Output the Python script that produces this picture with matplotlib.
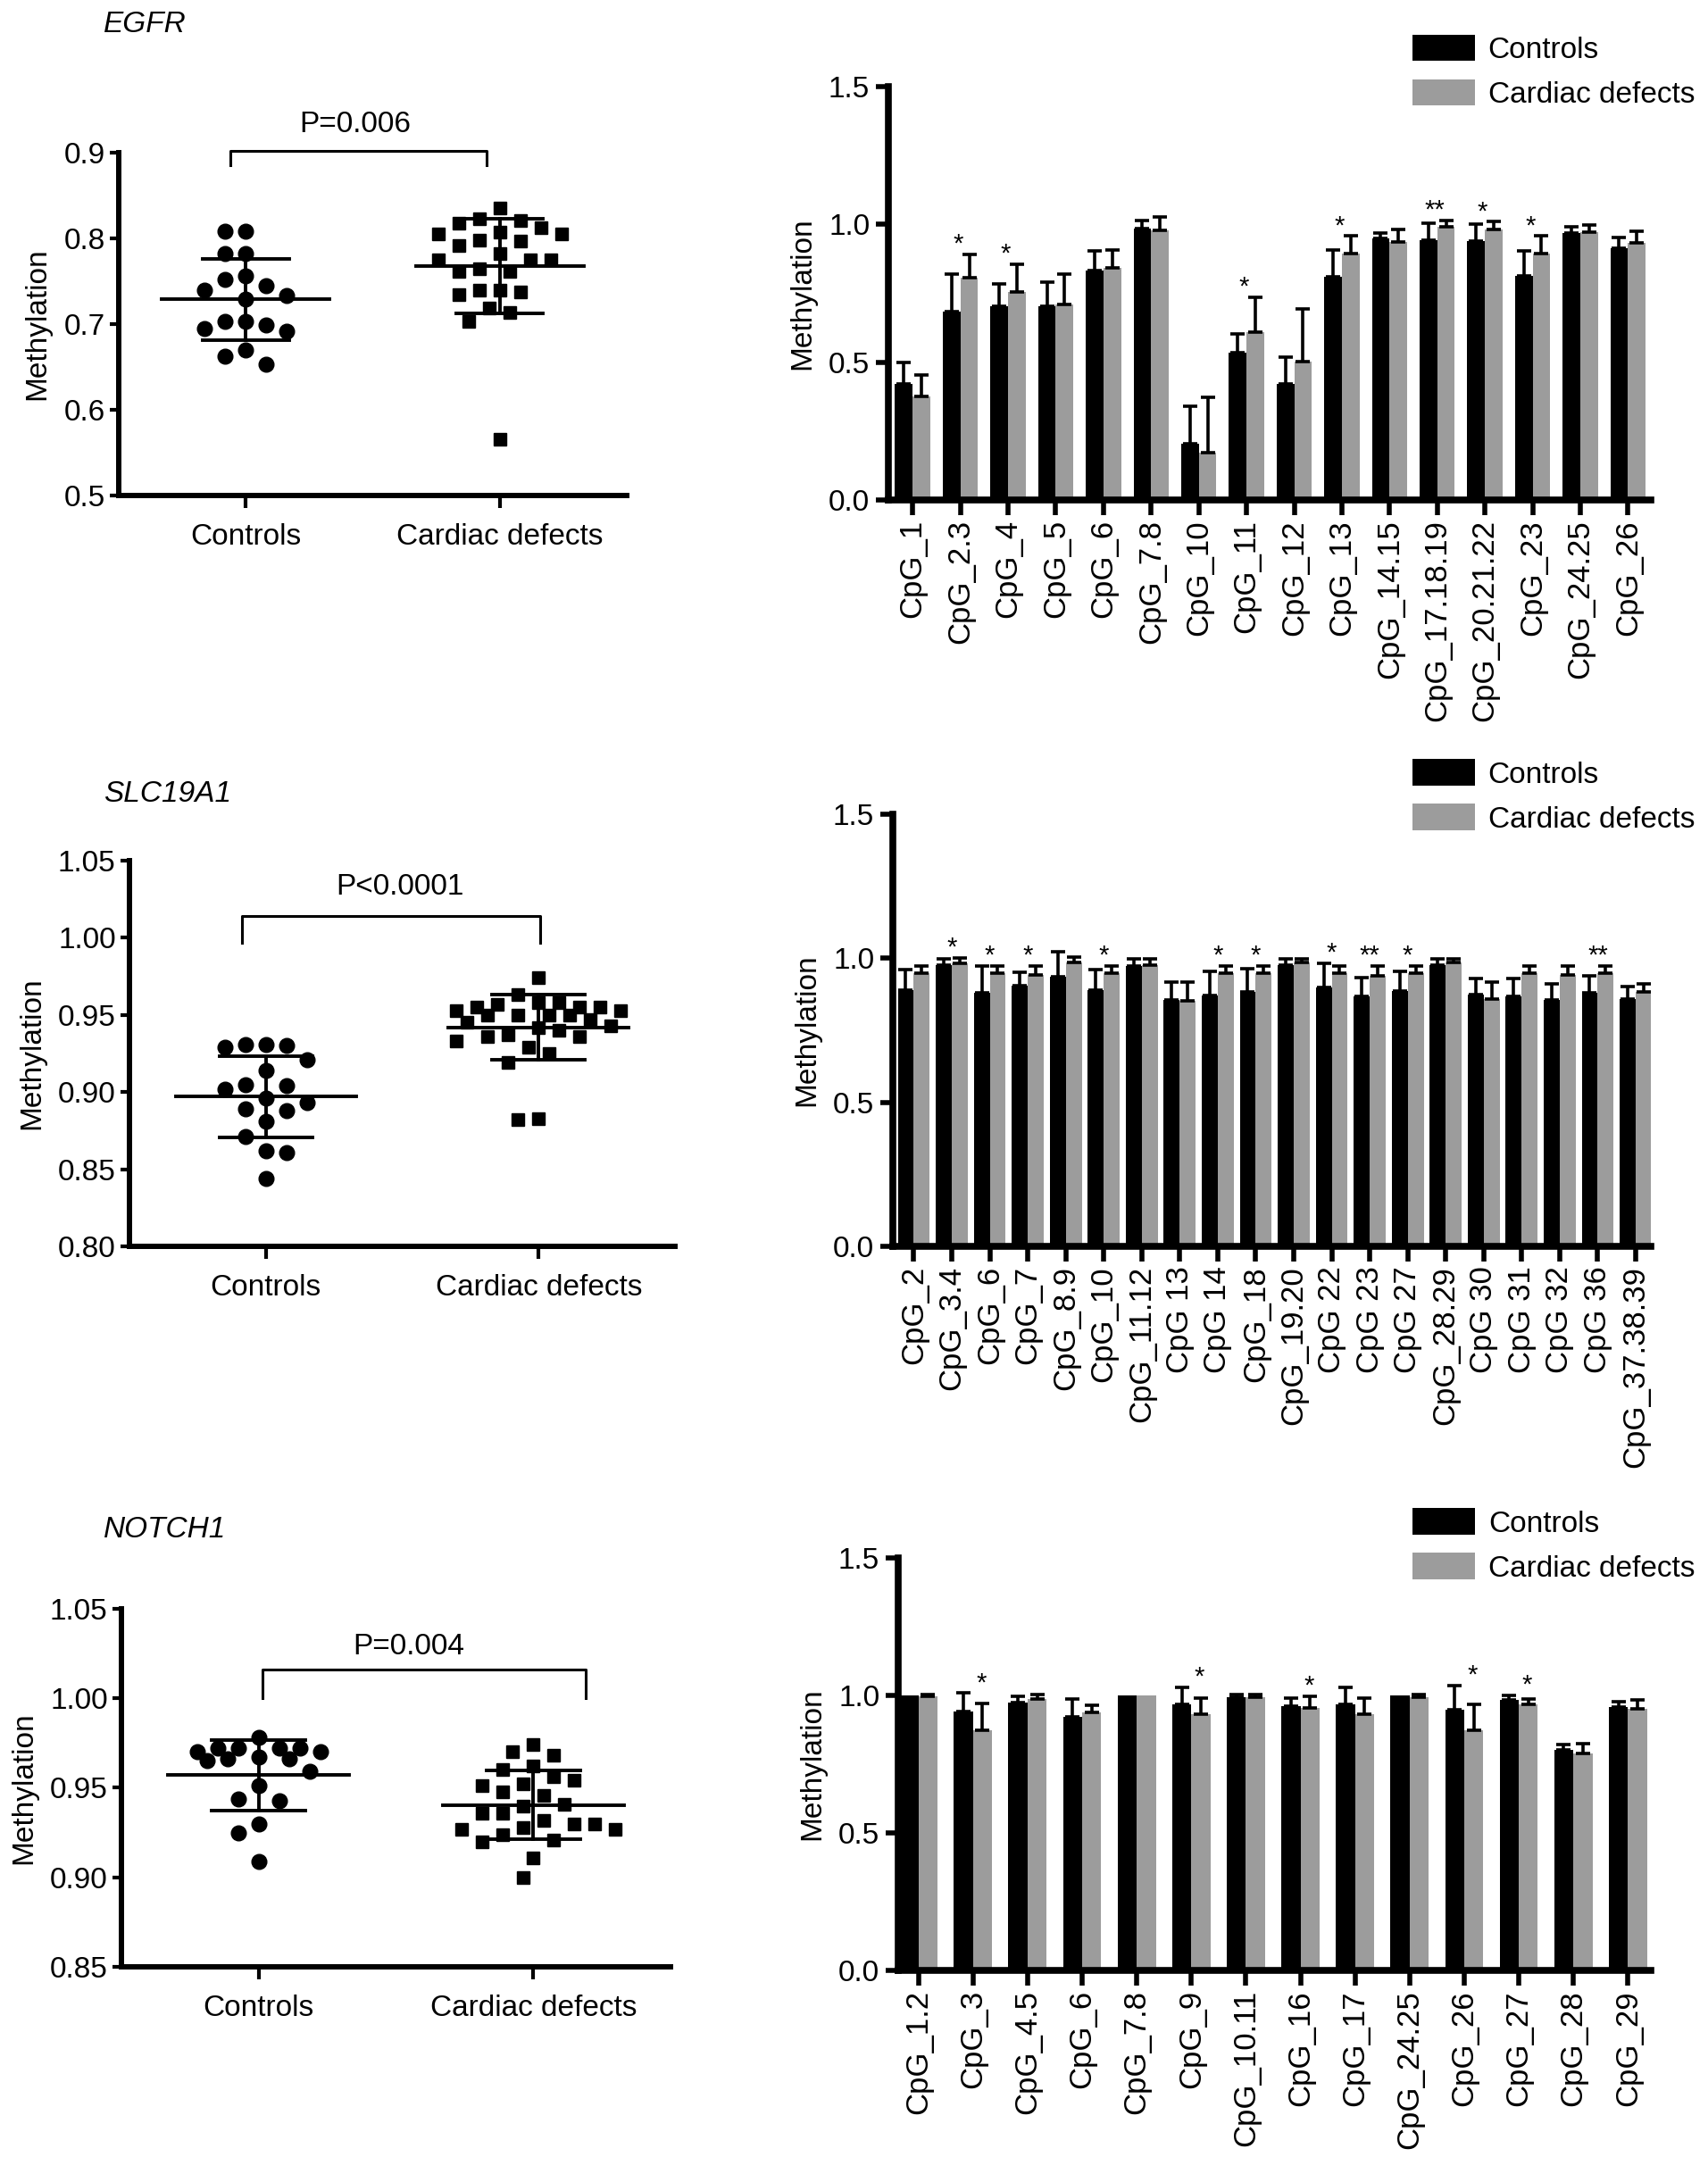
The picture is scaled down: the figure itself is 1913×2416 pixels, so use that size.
import numpy as np
import matplotlib
matplotlib.use('Agg')
import matplotlib.pyplot as plt
from matplotlib.patches import Patch

plt.rcParams['font.family'] = ['Liberation Sans', 'DejaVu Sans']

# ---------------- data ----------------
# Scatter panels (individual methylation levels)
egfr_ctrl = [0.808, 0.808, 0.782, 0.782, 0.756, 0.752, 0.745, 0.740, 0.733, 0.729,
             0.703, 0.703, 0.699, 0.695, 0.692, 0.670, 0.663, 0.653]
egfr_case = [0.835, 0.823, 0.821, 0.818, 0.812, 0.807, 0.805, 0.805, 0.798, 0.797,
             0.792, 0.782, 0.775, 0.775, 0.775, 0.765, 0.761, 0.761, 0.740, 0.740,
             0.738, 0.734, 0.719, 0.714, 0.703, 0.566]
egfr_mean = [0.729, 0.768]
egfr_sd = [0.0475, 0.055]

slc_ctrl = [0.931, 0.930, 0.929, 0.931, 0.921, 0.914, 0.904, 0.902, 0.905, 0.896,
            0.893, 0.889, 0.888, 0.881, 0.871, 0.862, 0.861, 0.844]
slc_case = [0.974, 0.963, 0.958, 0.957, 0.958, 0.955, 0.953, 0.953, 0.955, 0.955,
            0.950, 0.950, 0.950, 0.950, 0.945, 0.947, 0.943, 0.942, 0.940, 0.936,
            0.937, 0.936, 0.933, 0.929, 0.925, 0.919, 0.882, 0.883]
slc_mean = [0.897, 0.942]
slc_sd = [0.0265, 0.021]

notch_ctrl = [0.978, 0.970, 0.972, 0.972, 0.972, 0.972, 0.970, 0.966, 0.965, 0.966,
              0.967, 0.959, 0.951, 0.943, 0.944, 0.930, 0.925, 0.909]
notch_case = [0.974, 0.970, 0.968, 0.960, 0.962, 0.956, 0.954, 0.951, 0.952, 0.946,
              0.948, 0.940, 0.941, 0.936, 0.936, 0.930, 0.927, 0.927, 0.930, 0.932,
              0.928, 0.924, 0.921, 0.920, 0.911, 0.900]
notch_mean = [0.957, 0.9405]
notch_sd = [0.0195, 0.019]

scatter_cats = ['Controls', 'Cardiac defects']
p_labels = ['P=0.006', 'P<0.0001', 'P=0.004']
gene_names = ['EGFR', 'SLC19A1', 'NOTCH1']

# Bar panels (per CpG unit)
egfr_cpg = ['CpG_1', 'CpG_2.3', 'CpG_4', 'CpG_5', 'CpG_6', 'CpG_7.8', 'CpG_10', 'CpG_11',
            'CpG_12', 'CpG_13', 'CpG_14.15', 'CpG_17.18.19', 'CpG_20.21.22', 'CpG_23',
            'CpG_24.25', 'CpG_26']
egfr_bar_ctrl = [0.420, 0.683, 0.703, 0.703, 0.834, 0.986, 0.203, 0.534, 0.420, 0.810,
                 0.949, 0.942, 0.941, 0.814, 0.968, 0.915]
egfr_bar_ctrl_sd = [0.080, 0.136, 0.080, 0.089, 0.069, 0.028, 0.136, 0.069, 0.097, 0.097,
                    0.020, 0.061, 0.059, 0.089, 0.024, 0.039]
egfr_bar_case = [0.376, 0.807, 0.754, 0.708, 0.841, 0.980, 0.171, 0.610, 0.502, 0.895,
                 0.937, 0.992, 0.983, 0.895, 0.971, 0.932]
egfr_bar_case_sd = [0.078, 0.085, 0.102, 0.111, 0.067, 0.047, 0.202, 0.127, 0.190, 0.063,
                    0.046, 0.022, 0.027, 0.063, 0.026, 0.044]
egfr_sig = ['', '*', '*', '', '', '', '', '*', '', '*', '', '**', '*', '*', '', '']

slc_cpg = ['CpG_2', 'CpG_3.4', 'CpG_6', 'CpG_7', 'CpG_8.9', 'CpG_10', 'CpG_11.12', 'CpG 13',
           'CpG 14', 'CpG_18', 'CpG_19.20', 'CpG 22', 'CpG 23', 'CpG 27', 'CpG_28.29',
           'CpG 30', 'CpG 31', 'CpG 32', 'CpG 36', 'CpG_37.38.39']
slc_bar_ctrl = [0.891, 0.977, 0.880, 0.904, 0.935, 0.891, 0.972, 0.856, 0.872, 0.883,
                0.976, 0.900, 0.867, 0.887, 0.976, 0.875, 0.867, 0.854, 0.880, 0.859]
slc_bar_ctrl_sd = [0.070, 0.020, 0.092, 0.047, 0.089, 0.070, 0.025, 0.060, 0.081, 0.081,
                   0.021, 0.081, 0.065, 0.066, 0.021, 0.054, 0.062, 0.057, 0.060, 0.044]
slc_bar_case = [0.948, 0.981, 0.948, 0.943, 0.985, 0.948, 0.976, 0.851, 0.948, 0.948,
                0.984, 0.948, 0.940, 0.948, 0.984, 0.859, 0.948, 0.943, 0.948, 0.883]
slc_bar_case_sd = [0.024, 0.019, 0.024, 0.029, 0.018, 0.024, 0.021, 0.065, 0.024, 0.024,
                   0.013, 0.024, 0.032, 0.024, 0.013, 0.057, 0.024, 0.029, 0.024, 0.028]
slc_sig = ['', '*', '*', '*', '', '*', '', '', '*', '*', '', '*', '**', '*', '', '', '',
           '', '**', '']

notch_cpg = ['CpG_1.2', 'CpG_3', 'CpG_4.5', 'CpG_6', 'CpG_7.8', 'CpG_9', 'CpG_10.11',
             'CpG_16', 'CpG_17', 'CpG_24.25', 'CpG_26', 'CpG_27', 'CpG_28', 'CpG_29']
notch_bar_ctrl = [1.000, 0.943, 0.975, 0.923, 1.000, 0.967, 0.994, 0.962, 0.967, 1.000,
                  0.947, 0.984, 0.802, 0.958]
notch_bar_ctrl_sd = [0.000, 0.066, 0.022, 0.063, 0.000, 0.063, 0.009, 0.027, 0.063, 0.000,
                     0.089, 0.016, 0.019, 0.020]
notch_bar_case = [0.997, 0.874, 0.986, 0.939, 1.000, 0.931, 0.994, 0.953, 0.931, 0.994,
                  0.874, 0.967, 0.789, 0.950]
notch_bar_case_sd = [0.006, 0.096, 0.017, 0.026, 0.000, 0.058, 0.009, 0.045, 0.058, 0.009,
                     0.093, 0.019, 0.036, 0.033]
notch_sig = ['', '*', '', '', '', '*', '', '*', '', '', '*', '*', '', '']

legend_labels = ['Controls', 'Cardiac defects']

# ---------------- figure ----------------
W, H = 1913, 2416
DPI = 100
fig = plt.figure(figsize=(W / DPI, H / DPI), dpi=DPI)
FS = 24
GRAY = '#9c9c9c'


def add_ax(l, r, t, b):
    return fig.add_axes([l / W, 1 - b / H, (r - l) / W, (b - t) / H])


def style_axes(ax, lw):
    for s in ['top', 'right']:
        ax.spines[s].set_visible(False)
    for s in ['left', 'bottom']:
        ax.spines[s].set_linewidth(lw)
        ax.spines[s].set_capstyle('projecting')


def swarm_offsets(ax, xc, vals, sep, max_half):
    """Beeswarm layout in pixel space, limited to +-max_half data units."""
    tr = ax.transData
    inv = tr.inverted()
    x0 = tr.transform((xc, 0))[0]
    lim = tr.transform((xc + max_half, 0))[0] - x0
    ys = [tr.transform((xc, v))[1] for v in vals]
    placed = []
    out = np.zeros(len(vals))
    step = sep * 0.5
    cands = [0.0]
    j = 1
    while j * step <= lim:
        cands += [-j * step, j * step]
        j += 1
    for i in np.argsort(vals)[::-1]:
        y = ys[i]
        best, best_d = None, -1
        for off in cands:
            d = min([np.hypot(off - px, y - py) for px, py in placed] + [1e9])
            if d >= sep:
                best = off
                break
            if d > best_d:
                best, best_d = off, d
        placed.append((best, y))
        out[i] = inv.transform((x0 + best, y))[0]
    return out


def scatter_panel(box, ctrl, case, means, sds, ylim, yticks, fmt, bracket, ptext, ppos,
                  spread):
    ax = add_ax(*box)
    style_axes(ax, 4.3)
    ax.set_xlim(-0.5, 1.5)
    ax.set_ylim(*ylim)
    ax.set_yticks(yticks)
    ax.set_yticklabels([fmt.format(v) for v in yticks], fontsize=FS)
    ax.set_xticks([0, 1])
    ax.set_xticklabels(scatter_cats, fontsize=FS)
    ax.tick_params(axis='y', length=7, width=3, pad=4)
    ax.tick_params(axis='x', length=10, width=3, pad=12)
    ax.set_ylabel('Methylation', fontsize=FS, labelpad=10)
    for xc, vals, mk, ms, sp in [(0, ctrl, 'o', 12, spread[0]), (1, case, 's', 10.5, spread[1])]:
        xs = swarm_offsets(ax, xc, vals, 23, sp)
        ax.plot(xs, vals, ls='none', marker=mk, ms=ms, color='black', clip_on=False, zorder=3)
    for xc, m, s in zip([0, 1], means, sds):
        ax.plot([xc - 0.33, xc + 0.33], [m, m], color='black', lw=2.8, zorder=4)
        ax.plot([xc - 0.17, xc + 0.17], [m + s, m + s], color='black', lw=2.8, zorder=4)
        ax.plot([xc - 0.17, xc + 0.17], [m - s, m - s], color='black', lw=2.8, zorder=4)
        ax.plot([xc, xc], [m - s, m + s], color='black', lw=2.8, zorder=4)
    x0, x1, yt, yd = bracket
    ax.plot([x0, x0, x1, x1], [yd, yt, yt, yd], color='black', lw=2.2, clip_on=False)
    ax.text(ppos[0], ppos[1], ptext, fontsize=FS, ha='center', va='center', clip_on=False)
    return ax


def bar_panel(box, cats, ctrl, ctrl_sd, case, case_sd, sig, w, xlim, sdx, leg_anchor):
    ax = add_ax(*box)
    style_axes(ax, 5.5)
    x = np.arange(len(cats))
    ctrl = np.array(ctrl)
    case = np.array(case)
    ctrl_sd = np.array(ctrl_sd)
    case_sd = np.array(case_sd)
    ax.bar(x - w / 2, ctrl, w, color='black', zorder=2, label=legend_labels[0])
    ax.bar(x + w / 2, case, w, color=GRAY, zorder=2, label=legend_labels[1])
    for xs, m, s in [(x - w / 2, ctrl, ctrl_sd), (x + w / 2, case, case_sd)]:
        k = s > 0
        ax.errorbar(xs[k], m[k], yerr=[np.zeros(k.sum()), s[k]], fmt='none', ecolor='black',
                    elinewidth=2.6, capsize=5.5, capthick=2.6, zorder=3)
    for i, m in enumerate(sig):
        if m:
            top = max(ctrl[i] + ctrl_sd[i], case[i] + case_sd[i])
            ax.text(x[i] + sdx, top + 0.036, m, fontsize=21, ha='center', va='center')
    ax.set_xlim(*xlim)
    ax.set_ylim(0, 1.5)
    ax.set_yticks([0, 0.5, 1.0, 1.5])
    ax.set_yticklabels(['0.0', '0.5', '1.0', '1.5'], fontsize=FS)
    ax.set_xticks(x)
    ax.set_xticklabels(cats, rotation=90, fontsize=25)
    ax.tick_params(axis='y', length=10, width=4, pad=5)
    ax.tick_params(axis='x', length=12, width=4, pad=4)
    ax.set_ylabel('Methylation', fontsize=FS, labelpad=10)
    handles = [Patch(facecolor='black'), Patch(facecolor=GRAY)]
    ax.legend(handles, legend_labels, loc='center left', bbox_to_anchor=leg_anchor,
              frameon=False, fontsize=FS, handlelength=2.1, handleheight=1.0,
              handletextpad=0.45, labelspacing=0.5, borderpad=0, borderaxespad=0)
    return ax


# Row 1: EGFR
scatter_panel((133, 702, 171, 555), egfr_ctrl, egfr_case, egfr_mean, egfr_sd,
              (0.5, 0.9), [0.5, 0.6, 0.7, 0.8, 0.9], '{:.1f}',
              (-0.06, 0.948, 0.902, 0.885), p_labels[0], (0.43, 0.933), (0.17, 0.25))
bar_panel((995, 1849, 97, 560), egfr_cpg, egfr_bar_ctrl, egfr_bar_ctrl_sd,
          egfr_bar_case, egfr_bar_case_sd, egfr_sig, 0.37, (-0.51, 15.48), -0.05,
          (0.687, 1.036))

# Row 2: SLC19A1
scatter_panel((145, 756, 964, 1396), slc_ctrl, slc_case, slc_mean, slc_sd,
              (0.80, 1.05), [0.80, 0.85, 0.90, 0.95, 1.00, 1.05], '{:.2f}',
              (-0.086, 1.006, 1.0144, 0.997), p_labels[1], (0.49, 1.033), (0.17, 0.31))
bar_panel((1000, 1849, 912, 1396), slc_cpg, slc_bar_ctrl, slc_bar_ctrl_sd,
          slc_bar_case, slc_bar_case_sd, slc_sig, 0.42, (-0.55, 19.4), 0.0,
          (0.685, 1.041))

# Row 3: NOTCH1
scatter_panel((136, 751, 1802, 2203), notch_ctrl, notch_case, notch_mean, notch_sd,
              (0.85, 1.05), [0.85, 0.90, 0.95, 1.00, 1.05], '{:.2f}',
              (0.013, 1.19, 1.016, 1.0), p_labels[2], (0.547, 1.029), (0.25, 0.3))
bar_panel((1006, 1849, 1745, 2207), notch_cpg, notch_bar_ctrl, notch_bar_ctrl_sd,
          notch_bar_case, notch_bar_case_sd, notch_sig, 0.35, (-0.37, 13.42), 0.15,
          (0.683, 1.03))

for name, y in zip(gene_names, [28, 890, 1713]):
    fig.text(116 / W, 1 - y / H, name, fontsize=FS, style='italic', ha='left', va='center')

fig.savefig('out.png', dpi=DPI, facecolor='white')
